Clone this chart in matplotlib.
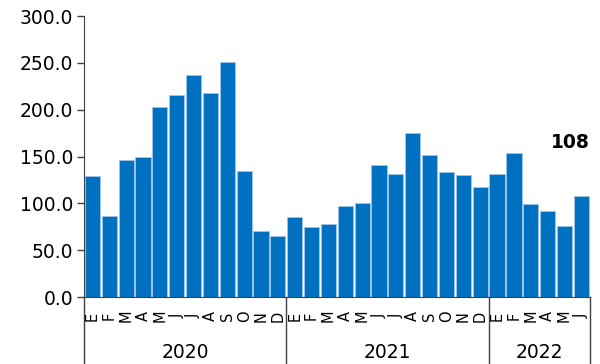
import numpy as np
import matplotlib
matplotlib.use("Agg")
from matplotlib import pyplot as plt
import matplotlib.transforms as mtransforms

# Data
months = ["E", "F", "M", "A", "M", "J", "J", "A", "S", "O", "N", "D",
          "E", "F", "M", "A", "M", "J", "J", "A", "S", "O", "N", "D",
          "E", "F", "M", "A", "M", "J"]
values = [129, 87, 146, 149, 203, 216, 237, 218, 251, 135, 71, 65,
          85, 75, 78, 97, 100, 141, 131, 175, 152, 134, 130, 117,
          131, 154, 99, 92, 76, 108]
years = ["2020", "2021", "2022"]
year_counts = [12, 12, 6]
last_label = "108"

plt.rcParams["font.family"] = ["DejaVu Sans"]

fig = plt.figure(figsize=(6.0, 3.64), dpi=100)
ax = fig.add_axes([0.14, 0.184, 0.843, 0.772])

x = np.arange(len(values))
ax.bar(x, values, width=0.9, color="#0070C0", edgecolor="#9cc3e8", linewidth=0.7)

ax.set_xlim(-0.5, len(values) - 0.5)
ax.set_ylim(0, 300)
ax.set_yticks(np.arange(0, 301, 50))
ax.set_yticklabels([f"{v:.1f}" for v in np.arange(0, 301, 50)], fontsize=13.5)
ax.tick_params(axis="y", length=5, width=1, color="#404040", pad=3)
ax.set_xticks([])

for s in ["top", "right"]:
    ax.spines[s].set_visible(False)
ax.spines["left"].set_color("#404040")
ax.spines["bottom"].set_color("#404040")

trans = mtransforms.blended_transform_factory(ax.transData, ax.transAxes)

# month letters
for i, m in enumerate(months):
    ax.text(i, -0.068, m, transform=trans, rotation=90, ha="center", va="center",
            fontsize=10.5)

# year groups with separators
start = 0
bounds = [-0.5]
for y, n in zip(years, year_counts):
    ax.text(start + (n - 1) / 2, -0.196, y, transform=trans, ha="center",
            va="center", fontsize=13.5)
    start += n
    bounds.append(start - 0.5)
for b in bounds:
    ax.plot([b, b], [0, -0.25], transform=trans, color="#404040", lw=1,
            clip_on=False)

# label on last bar
ax.text(len(values) - 0.5, 165, last_label, ha="right", va="center",
        fontsize=13.5, fontweight="bold")

fig.savefig("out.png", dpi=100)
